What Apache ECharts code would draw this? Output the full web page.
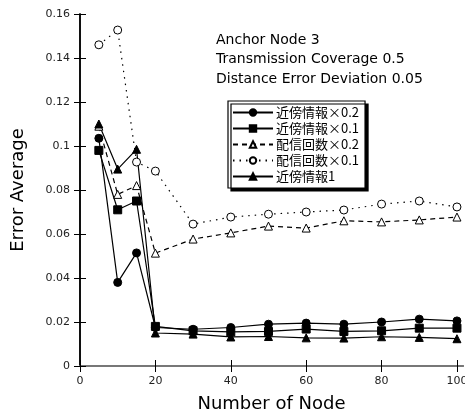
<!DOCTYPE html>
<html>
<head>
<meta charset="utf-8">
<script src="https://cdn.jsdelivr.net/npm/echarts@6/dist/echarts.min.js"></script>
<style>
  html, body { margin: 0; padding: 0; background: #fff; }
  #chart { width: 465px; height: 413px; }
</style>
</head>
<body>
<div id="chart"></div>
<script>
// Number of nodes (x values)
const nodeCounts = [5, 10, 15, 20, 30, 40, 50, 60, 70, 80, 90, 100];

// Error averages per method
const kinbo02 = [0.1035, 0.038, 0.0514, 0.0175, 0.0167, 0.0175, 0.019, 0.0195, 0.019, 0.020, 0.0213, 0.0205];
const kinbo01 = [0.098, 0.071, 0.075, 0.018, 0.016, 0.0155, 0.0157, 0.0168, 0.0157, 0.016, 0.0172, 0.0172];
const haishin02 = [0.109, 0.078, 0.082, 0.0513, 0.0577, 0.0605, 0.0636, 0.0627, 0.066, 0.0655, 0.0664, 0.0677];
const haishin01 = [0.146, 0.1527, 0.0927, 0.0886, 0.0645, 0.0677, 0.069, 0.070, 0.0709, 0.0736, 0.075, 0.0723];
const kinbo1 = [0.110, 0.0895, 0.0985, 0.015, 0.0145, 0.0132, 0.0134, 0.0128, 0.0127, 0.0133, 0.013, 0.0124];

const seriesNames = ['近傍情報×0.2', '近傍情報×0.1', '配信回数×0.2', '配信回数×0.1', '近傍情報1'];
const xTickValues = [0, 20, 40, 60, 80, 100];
const infoLines = ['Anchor Node 3', 'Transmission Coverage 0.5', 'Distance Error Deviation 0.05'];

const pairs = arr => nodeCounts.map((x, i) => [x, arr[i]]);
const fontLatin = 'DejaVu Sans, Noto Sans CJK JP, sans-serif';

function mkSeries(name, data, symbol, size, fill, lineType) {
  return {
    name: name,
    type: 'line',
    data: pairs(data),
    symbol: symbol,
    symbolSize: size,
    showAllSymbol: true,
    lineStyle: { color: '#000', width: 1.2, type: lineType },
    itemStyle: { color: fill, borderColor: '#000', borderWidth: 1 },
    emphasis: { disabled: true },
    animation: false
  };
}

const chart = echarts.init(document.getElementById('chart'), null, { renderer: 'canvas' });
chart.setOption({
  backgroundColor: '#fff',
  animation: false,
  grid: { left: 80, right: 2, top: 14, bottom: 47, outerBoundsMode: 'none', containLabel: false },
  xAxis: [{
    type: 'value', min: 0, max: 101.6,
    name: 'Number of Node', nameLocation: 'middle', nameGap: 29,
    nameTextStyle: { fontSize: 18, color: '#000', fontFamily: fontLatin },
    axisLine: { lineStyle: { color: '#000', width: 1.5 } },
    axisTick: { inside: true, length: 6, customValues: xTickValues, lineStyle: { color: '#000' } },
    axisLabel: { customValues: xTickValues, fontSize: 11, color: '#222', margin: 10, fontFamily: fontLatin },
    splitLine: { show: false }
  }, {
    type: 'value', min: 0, max: 101.6, position: 'top',
    axisLine: { lineStyle: { color: '#777', width: 2 } },
    axisTick: { inside: true, length: 6, customValues: xTickValues, lineStyle: { color: '#000' } },
    axisLabel: { show: false },
    splitLine: { show: false }
  }],
  yAxis: [{
    type: 'value', min: 0, max: 0.16, interval: 0.02,
    name: 'Error Average', nameLocation: 'middle', nameGap: 53,
    nameTextStyle: { fontSize: 18, color: '#000', fontFamily: fontLatin },
    axisLine: { lineStyle: { color: '#000', width: 1.5 } },
    axisTick: { inside: true, length: 6, lineStyle: { color: '#000' } },
    axisLabel: { fontSize: 11, color: '#222', margin: 10, fontFamily: fontLatin },
    splitLine: { show: false }
  }, {
    type: 'value', min: 0, max: 0.16, interval: 0.02, position: 'right',
    axisLine: { lineStyle: { color: '#000', width: 1.5 } },
    axisTick: { inside: true, length: 6, lineStyle: { color: '#000' } },
    axisLabel: { show: false },
    splitLine: { show: false }
  }],
  legend: {
    data: seriesNames,
    orient: 'vertical',
    left: 228, top: 101,
    width: 134,
    itemWidth: 40, itemHeight: 8, itemGap: 3,
    padding: [5, 6, 5, 4],
    backgroundColor: '#fff',
    borderColor: '#000', borderWidth: 1.2, borderRadius: 0,
    shadowColor: '#000', shadowBlur: 0, shadowOffsetX: 3, shadowOffsetY: 3,
    textStyle: { fontSize: 13, color: '#000', lineHeight: 13, fontFamily: 'Noto Sans CJK JP, sans-serif', padding: [0, 0, 0, -2] },
    selectedMode: false
  },
  graphic: infoLines.map((t, i) => ({
    type: 'text',
    left: 216, top: 33 + i * 19.5,
    style: { text: t, font: '14px ' + fontLatin, fill: '#000' }
  })),
  series: [
    mkSeries(seriesNames[0], kinbo02, 'circle', 8, '#000', 'solid'),
    mkSeries(seriesNames[1], kinbo01, 'rect', 8, '#000', 'solid'),
    mkSeries(seriesNames[2], haishin02, 'triangle', 8, '#fff', [5, 4]),
    mkSeries(seriesNames[3], haishin01, 'circle', 8, '#fff', [1.5, 5]),
    mkSeries(seriesNames[4], kinbo1, 'triangle', 8, '#000', 'solid')
  ]
});
</script>
</body>
</html>
